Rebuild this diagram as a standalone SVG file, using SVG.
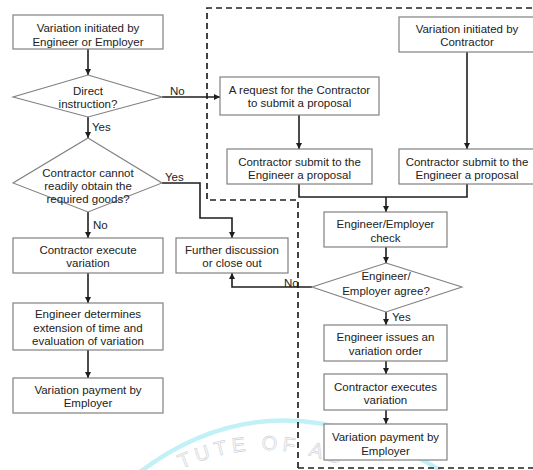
<svg xmlns="http://www.w3.org/2000/svg" width="533" height="470" viewBox="0 0 533 470">
<defs>
<style>
.bx{fill:#fff;stroke:#808080;stroke-width:1.2}
.dm{fill:#fff;stroke:#808080;stroke-width:1.1}
.t{font-family:"Liberation Sans",Arial,sans-serif;font-size:11.5px;fill:#222;text-anchor:middle}
.l{font-family:"Liberation Sans",Arial,sans-serif;font-size:11.5px;fill:#222}
.c{fill:none;stroke:#1e1e1e;stroke-width:1.6}
.a{marker-end:url(#ah)}
.dash{fill:none;stroke:#222;stroke-width:1.7;stroke-dasharray:6,4}
</style>
<marker id="ah" viewBox="0 0 8 8" refX="8" refY="4" markerWidth="6" markerHeight="6" markerUnits="userSpaceOnUse" orient="auto">
<path d="M0,0 L8,4 L0,8 z" fill="#1e1e1e"/>
</marker>
</defs>
<rect width="533" height="470" fill="#fff"/>
<g id="watermark" opacity="0.8">
<path d="M140,472 Q275,370 440,470" fill="none" stroke="#b2eef6" stroke-width="4.5"/>
<path id="wmp" d="M160,480 Q265,420 370,480" fill="none"/>
<text font-family="'Liberation Sans',Arial,sans-serif" font-size="20" fill="none" stroke="#c6cacc" stroke-width="0.7" letter-spacing="5"><textPath href="#wmp" startOffset="24">TUTE OF AD</textPath></text>
</g>
<g id="frame">
<path class="dash" d="M298,468 V200 H207 V8 H540"/>
<path class="dash" d="M298,468 H540"/>
</g>
<g id="connectors">
<path class="c a" d="M88,49 V75"/>
<path class="c a" d="M88,117 V138"/>
<path class="c a" d="M162,97 H220"/>
<path class="c a" d="M162,183 H200 V218 H232 V238"/>
<path class="c a" d="M88,212 V238"/>
<path class="c a" d="M88,273 V303"/>
<path class="c a" d="M88,350 V378"/>
<path class="c a" d="M299,115 V149"/>
<path class="c a" d="M467,52 V149"/>
<path class="c" d="M299,184 V197 H467 V184"/>
<path class="c a" d="M386,197 V212"/>
<path class="c a" d="M386,247 V263"/>
<path class="c a" d="M312,287 H232 V273"/>
<path class="c a" d="M386,312 V325"/>
<path class="c a" d="M386,361 V374"/>
<path class="c a" d="M386,410 V424"/>
<text class="l" x="170" y="95">No</text>
<text class="l" x="92" y="131">Yes</text>
<text class="l" x="165" y="181">Yes</text>
<text class="l" x="93" y="229">No</text>
<text class="l" x="284" y="287">No</text>
<text class="l" x="392" y="321">Yes</text>
</g>
<g id="n1"><rect class="bx" x="13" y="15" width="150" height="34"/><text class="t" x="88" y="32">Variation initiated by</text><text class="t" x="88" y="46">Engineer or Employer</text></g>
<g id="d1"><polygon class="dm" points="88,75 162,97 88,117 13,97"/><text class="t" x="88" y="95">Direct</text><text class="t" x="88" y="108">instruction?</text></g>
<g id="d2"><polygon class="dm" points="88,138 162,183 88,212 13,183"/><text class="t" x="88" y="177">Contractor cannot</text><text class="t" x="88" y="190">readily obtain the</text><text class="t" x="88" y="203">required goods?</text></g>
<g id="n2"><rect class="bx" x="13" y="238" width="150" height="35"/><text class="t" x="88" y="254">Contractor execute</text><text class="t" x="88" y="267">variation</text></g>
<g id="n3"><rect class="bx" x="13" y="303" width="150" height="47"/><text class="t" x="88" y="318">Engineer determines</text><text class="t" x="88" y="332">extension of time and</text><text class="t" x="88" y="345">evaluation of variation</text></g>
<g id="n4"><rect class="bx" x="13" y="378" width="150" height="35"/><text class="t" x="88" y="394">Variation payment by</text><text class="t" x="88" y="407">Employer</text></g>
<g id="n5"><rect class="bx" x="176" y="238" width="112" height="35"/><text class="t" x="232" y="254">Further discussion</text><text class="t" x="232" y="267">or close out</text></g>
<g id="n6"><rect class="bx" x="220" y="77" width="159" height="38"/><text class="t" x="299.5" y="94">A request for the Contractor</text><text class="t" x="299.5" y="107">to submit a proposal</text></g>
<g id="n7"><rect class="bx" x="227" y="149" width="145" height="35"/><text class="t" x="299.5" y="166">Contractor submit to the</text><text class="t" x="299.5" y="179">Engineer a proposal</text></g>
<g id="n8"><rect class="bx" x="399" y="17" width="136" height="35"/><text class="t" x="467" y="33">Variation initiated by</text><text class="t" x="467" y="46">Contractor</text></g>
<g id="n9"><rect class="bx" x="399" y="149" width="136" height="35"/><text class="t" x="467" y="166">Contractor submit to the</text><text class="t" x="467" y="179">Engineer a proposal</text></g>
<g id="n10"><rect class="bx" x="324" y="212" width="123" height="35"/><text class="t" x="385.5" y="228">Engineer/Employer</text><text class="t" x="385.5" y="242">check</text></g>
<g id="d3"><polygon class="dm" points="386,263 462,287 386,312 312,287"/><text class="t" x="386" y="280">Engineer/</text><text class="t" x="386" y="295">Employer agree?</text></g>
<g id="n11"><rect class="bx" x="324" y="325" width="123" height="36"/><text class="t" x="385.5" y="341">Engineer issues an</text><text class="t" x="385.5" y="355">variation order</text></g>
<g id="n12"><rect class="bx" x="324" y="374" width="123" height="36"/><text class="t" x="385.5" y="391">Contractor executes</text><text class="t" x="385.5" y="404">variation</text></g>
<g id="n13"><rect class="bx" x="324" y="424" width="123" height="36"/><text class="t" x="385.5" y="441">Variation payment by</text><text class="t" x="385.5" y="455">Employer</text></g>
</svg>
